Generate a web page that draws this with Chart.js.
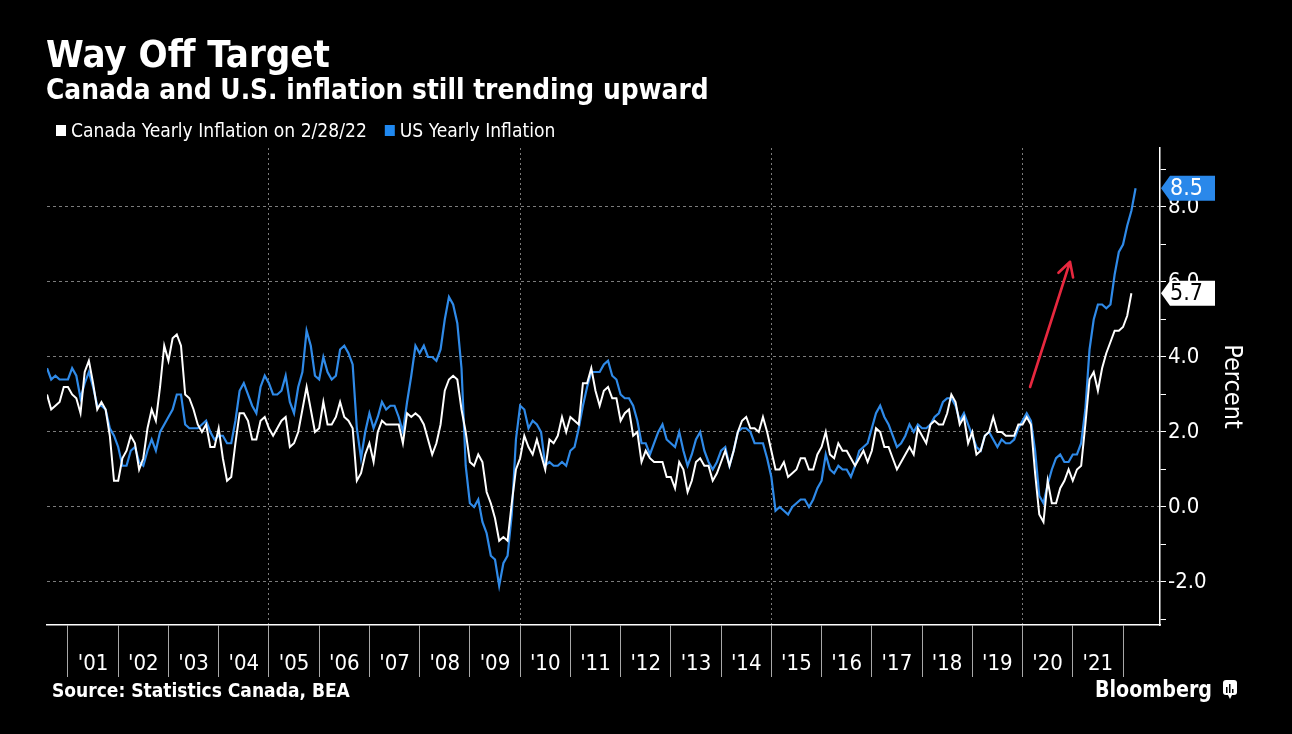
<!DOCTYPE html>
<html>
<head>
<meta charset="utf-8">
<style>
html,body{margin:0;padding:0;background:#000;}
#wrap{width:1292px;height:734px;position:relative;}
canvas{display:block;}
</style>
<script src="https://cdn.jsdelivr.net/npm/chart.js@4.4.1/dist/chart.umd.min.js"></script>
</head>
<body>
<div id="wrap"><canvas id="c" width="1292" height="734"></canvas></div>
<script>
// ---------- data ----------
const titleText = 'Way Off Target';
const subtitleText = 'Canada and U.S. inflation still trending upward';
const sourceText = 'Source: Statistics Canada, BEA';
const brandText = 'Bloomberg';
const seriesNames = ['Canada Yearly Inflation on 2/28/22', 'US Yearly Inflation'];
const axisTitle = 'Percent';

// monthly year-over-year values, first value = July 2000
const startYear = 2000;
const startMonth = 7;

const canada = [
  3.0,2.6,2.7,2.8,3.2,3.2,
  3.0,2.9,2.5,3.6,3.9,3.3,2.6,2.8,2.6,1.9,0.7,0.7,
  1.3,1.5,1.9,1.7,1.0,1.3,2.1,2.6,2.3,3.2,4.3,3.9,
  4.5,4.6,4.3,3.0,2.9,2.6,2.2,2.0,2.2,1.6,1.6,2.1,
  1.3,0.7,0.8,1.7,2.5,2.5,2.3,1.8,1.8,2.3,2.4,2.1,
  1.9,2.1,2.3,2.4,1.6,1.7,2.0,2.6,3.2,2.6,2.0,2.1,
  2.8,2.2,2.2,2.4,2.8,2.4,2.3,2.1,0.7,0.9,1.4,1.7,
  1.2,2.0,2.3,2.2,2.2,2.2,2.2,1.7,2.5,2.4,2.5,2.4,
  2.2,1.8,1.4,1.7,2.2,3.1,3.4,3.5,3.4,2.6,2.0,1.2,
  1.1,1.4,1.2,0.4,0.1,-0.3,-0.9,-0.8,-0.9,0.1,1.0,1.3,
  1.9,1.6,1.4,1.8,1.4,1.0,1.8,1.7,1.9,2.4,2.0,2.4,
  2.3,2.2,3.3,3.3,3.7,3.1,2.7,3.1,3.2,2.9,2.9,2.3,
  2.5,2.6,1.9,2.0,1.2,1.5,1.3,1.2,1.2,1.2,0.8,0.8,
  0.5,1.2,1.0,0.4,0.7,1.2,1.3,1.1,1.1,0.7,0.9,1.2,
  1.5,1.1,1.5,2.0,2.3,2.4,2.1,2.1,2.0,2.4,2.0,1.5,
  1.0,1.0,1.2,0.8,0.9,1.0,1.3,1.3,1.0,1.0,1.4,1.6,
  2.0,1.4,1.3,1.7,1.5,1.5,1.3,1.1,1.3,1.5,1.2,1.5,
  2.1,2.0,1.6,1.6,1.3,1.0,1.2,1.4,1.6,1.4,2.1,1.9,
  1.7,2.2,2.3,2.2,2.2,2.5,3.0,2.8,2.2,2.4,1.7,2.0,
  1.4,1.5,1.9,2.0,2.4,2.0,2.0,1.9,1.9,1.9,2.2,2.2,
  2.4,2.2,0.9,-0.2,-0.4,0.7,0.1,0.1,0.5,0.7,1.0,0.7,
  1.0,1.1,2.2,3.4,3.6,3.1,3.7,4.1,4.4,4.7,4.7,4.8,
  5.1,5.7
];

const us = [
  3.7,3.4,3.5,3.4,3.4,3.4,
  3.7,3.5,2.9,3.3,3.6,3.2,2.7,2.7,2.6,2.1,1.9,1.6,
  1.1,1.1,1.5,1.6,1.2,1.1,1.5,1.8,1.5,2.0,2.2,2.4,
  2.6,3.0,3.0,2.2,2.1,2.1,2.1,2.2,2.3,2.0,1.8,1.9,
  1.9,1.7,1.7,2.3,3.1,3.3,3.0,2.7,2.5,3.2,3.5,3.3,
  3.0,3.0,3.1,3.5,2.8,2.5,3.2,3.6,4.7,4.3,3.5,3.4,
  4.0,3.6,3.4,3.5,4.2,4.3,4.1,3.8,2.1,1.3,2.0,2.5,
  2.1,2.4,2.8,2.6,2.7,2.7,2.4,2.0,2.8,3.5,4.3,4.1,
  4.3,4.0,4.0,3.9,4.2,5.0,5.6,5.4,4.9,3.7,1.1,0.1,
  0.0,0.2,-0.4,-0.7,-1.3,-1.4,-2.1,-1.5,-1.3,-0.2,1.8,2.7,
  2.6,2.1,2.3,2.2,2.0,1.1,1.2,1.1,1.1,1.2,1.1,1.5,
  1.6,2.1,2.7,3.2,3.6,3.6,3.6,3.8,3.9,3.5,3.4,3.0,
  2.9,2.9,2.7,2.3,1.7,1.7,1.4,1.7,2.0,2.2,1.8,1.7,
  1.6,2.0,1.5,1.1,1.4,1.8,2.0,1.5,1.2,1.0,1.2,1.5,
  1.6,1.1,1.5,2.0,2.1,2.1,2.0,1.7,1.7,1.7,1.3,0.8,
  -0.1,0.0,-0.1,-0.2,0.0,0.1,0.2,0.2,0.0,0.2,0.5,0.7,
  1.4,1.0,0.9,1.1,1.0,1.0,0.8,1.1,1.5,1.6,1.7,2.1,
  2.5,2.7,2.4,2.2,1.9,1.6,1.7,1.9,2.2,2.0,2.2,2.1,
  2.1,2.2,2.4,2.5,2.8,2.9,2.9,2.7,2.3,2.5,2.2,1.9,
  1.6,1.5,1.9,2.0,1.8,1.6,1.8,1.7,1.7,1.8,2.1,2.3,
  2.5,2.3,1.5,0.3,0.1,0.6,1.0,1.3,1.4,1.2,1.2,1.4,
  1.4,1.7,2.6,4.2,5.0,5.4,5.4,5.3,5.4,6.2,6.8,7.0,
  7.5,7.9,8.5
];

const yearTicks = [2001,2002,2003,2004,2005,2006,2007,2008,2009,2010,2011,2012,2013,2014,2015,2016,2017,2018,2019,2020,2021,2022];
const yearLabels = ["'01","'02","'03","'04","'05","'06","'07","'08","'09","'10","'11","'12","'13","'14","'15","'16","'17","'18","'19","'20","'21",""];
const valueTicks = [-3,-2,-1,0,1,2,3,4,5,6,7,8,9];

// annotation arrow (data coordinates: year, percent)
const arrowFrom = [2020.15, 3.2];
const arrowTo = [2020.945, 6.54];

// ---------- style ----------
const FAM = "'DejaVu Sans Condensed', 'DejaVu Sans', sans-serif";
const WHITE = '#ffffff';
const BLUE = '#2f8ae8';
const GRID = '#7c7c7c';

const toPoints = arr => arr.map((v, i) => ({x: startYear + (startMonth + i) / 12, y: v}));

function fitFont(ctx, text, weight, family, targetW, nominal) {
  ctx.font = `${weight} ${nominal}px ${family}`;
  const w = ctx.measureText(text).width;
  const s = nominal * targetW / w;
  ctx.font = `${weight} ${s}px ${family}`;
  return s;
}

const decor = {
  id: 'decor',
  afterDraw(chart) {
    const ctx = chart.ctx;
    const xs = chart.scales.x, ys = chart.scales.y;
    ctx.save();
    ctx.fillStyle = WHITE;
    ctx.textAlign = 'left';
    ctx.textBaseline = 'alphabetic';
    // titles
    fitFont(ctx, titleText, 'bold', FAM, 284, 32);
    ctx.fillText(titleText, 46, 67);
    fitFont(ctx, subtitleText, 'bold', FAM, 663, 25);
    ctx.fillText(subtitleText, 46, 99);

    // legend
    fitFont(ctx, seriesNames[0], 'normal', FAM, 296, 18);
    const ds = chart.data.datasets;
    let lx = 56;
    ds.forEach((d, i) => {
      ctx.fillStyle = i === 0 ? WHITE : '#1f88f0';
      ctx.fillRect(lx, 125, 10, 11);
      ctx.fillStyle = WHITE;
      ctx.fillText(d.label, lx + 15, 137);
      lx += 15 + ctx.measureText(d.label).width + 18;
    });

    // source
    fitFont(ctx, sourceText, 'bold', FAM, 298, 17);
    ctx.fillText(sourceText, 52, 697);

    // Bloomberg brand
    ctx.font = `bold 23px ${FAM}`;
    const bw = ctx.measureText(brandText).width;
    ctx.save();
    ctx.translate(1095, 697);
    ctx.scale(117 / bw, 1);
    ctx.fillText(brandText, 0, 0);
    ctx.restore();
    // small icon
    ctx.fillStyle = WHITE;
    ctx.beginPath();
    ctx.roundRect(1223, 680, 14, 15, 3);
    ctx.fill();
    ctx.beginPath();
    ctx.moveTo(1228, 695); ctx.lineTo(1232, 695); ctx.lineTo(1230, 699); ctx.closePath();
    ctx.fill();
    ctx.fillStyle = '#000';
    ctx.fillRect(1226, 687, 1.5, 6);
    ctx.fillRect(1229, 684, 1.5, 9);
    ctx.fillRect(1232, 689, 1.5, 4);

    // last value flags
    const flags = [
      {v: us[us.length - 1], bg: '#2a88ea', fg: WHITE},
      {v: canada[canada.length - 1], bg: WHITE, fg: '#000'}
    ];
    ctx.font = `23px ${FAM}`;
    flags.forEach(f => {
      const y = ys.getPixelForValue(f.v);
      const x0 = xs.right + 1, x1 = x0 + 9, x2 = 1215, h = 12.5;
      ctx.fillStyle = f.bg;
      ctx.beginPath();
      ctx.moveTo(x0, y); ctx.lineTo(x1, y - h); ctx.lineTo(x2, y - h);
      ctx.lineTo(x2, y + h); ctx.lineTo(x1, y + h); ctx.closePath();
      ctx.fill();
      ctx.fillStyle = f.fg;
      ctx.textBaseline = 'middle';
      ctx.fillText(f.v.toFixed(1), x1, y + 1);
    });

    // red arrow
    const ax0 = xs.getPixelForValue(arrowFrom[0]), ay0 = ys.getPixelForValue(arrowFrom[1]);
    const ax1 = xs.getPixelForValue(arrowTo[0]), ay1 = ys.getPixelForValue(arrowTo[1]);
    ctx.strokeStyle = '#e8283f';
    ctx.lineWidth = 2.6;
    ctx.lineCap = 'round';
    ctx.lineJoin = 'round';
    ctx.beginPath();
    ctx.moveTo(ax0, ay0); ctx.lineTo(ax1, ay1);
    const ang = Math.atan2(ay1 - ay0, ax1 - ax0);
    const L = 16, spread = 0.5;
    ctx.moveTo(ax1 - L * Math.cos(ang - spread), ay1 - L * Math.sin(ang - spread));
    ctx.lineTo(ax1, ay1);
    ctx.lineTo(ax1 - L * Math.cos(ang + spread), ay1 - L * Math.sin(ang + spread));
    ctx.stroke();
    ctx.restore();
  }
};

new Chart(document.getElementById('c'), {
  type: 'line',
  data: {
    datasets: [
      {label: seriesNames[0], data: toPoints(canada), borderColor: WHITE, borderWidth: 2, pointRadius: 0, tension: 0},
      {label: seriesNames[1], data: toPoints(us), borderColor: BLUE, borderWidth: 2.2, pointRadius: 0, tension: 0}
    ]
  },
  options: {
    responsive: false,
    animation: false,
    layout: {padding: {left: 47, top: 148, right: 0, bottom: 0}},
    plugins: {legend: {display: false}, title: {display: false}, tooltip: {enabled: false}},
    scales: {
      x: {
        type: 'linear',
        position: 'bottom',
        min: 2000.583,
        max: 2022.736,
        afterBuildTicks: s => { s.ticks = yearTicks.map(v => ({value: v})); },
        afterFit: s => { s.height = 109; },
        ticks: {
          autoSkip: false, maxRotation: 0, minRotation: 0,
          color: WHITE,
          font: {family: FAM, size: 22},
          labelOffset: 25.1,
          padding: -26,
          callback: (v) => { const i = yearTicks.indexOf(Math.round(v)); return i >= 0 ? yearLabels[i] : ''; }
        },
        grid: {
          color: c => (c.tick && c.tick.value % 5 === 0) ? GRID : 'rgba(0,0,0,0)',
          tickColor: '#a8a8a8',
          tickLength: 52,
          lineWidth: 1
        },
        border: {display: true, color: WHITE, width: 1.5, dash: [2, 3]}
      },
      y: {
        type: 'linear',
        position: 'right',
        min: -3.147,
        max: 9.573,
        afterBuildTicks: s => { s.ticks = valueTicks.map(v => ({value: v})); },
        afterFit: s => { s.width = 132; },
        ticks: {
          color: WHITE,
          font: {family: FAM, size: 22},
          padding: 2,
          callback: v => (Math.round(v) % 2 === 0) ? v.toFixed(1) : ''
        },
        grid: {
          color: c => (c.tick && Math.round(c.tick.value) % 2 === 0) ? GRID : 'rgba(0,0,0,0)',
          tickColor: WHITE,
          tickLength: 6,
          lineWidth: 1
        },
        border: {display: true, color: WHITE, width: 1.5, dash: [3, 3]},
        title: {display: true, text: axisTitle, color: WHITE, font: {family: FAM, size: 25}, padding: {top: 46, bottom: 0}}
      }
    }
  },
  plugins: [decor]
});
</script>
</body>
</html>
